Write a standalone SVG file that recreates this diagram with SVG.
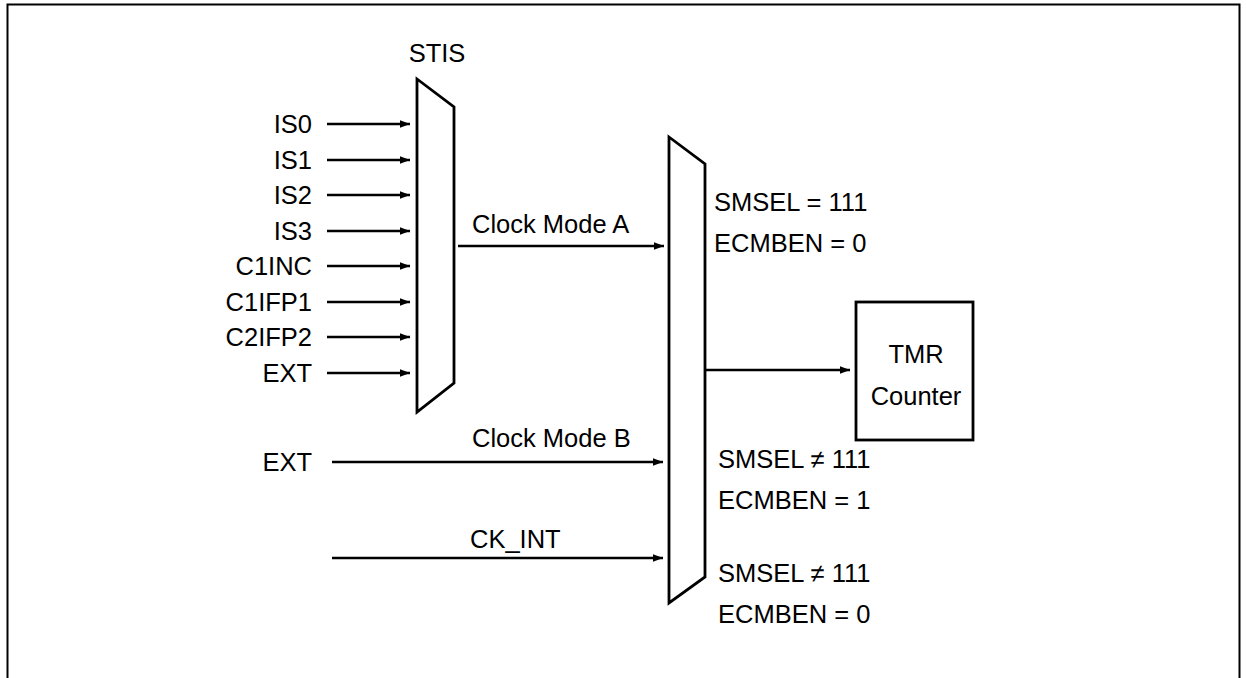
<svg xmlns="http://www.w3.org/2000/svg" width="1246" height="678" viewBox="0 0 1246 678">
<style>
text{font-family:"Liberation Sans",Arial,sans-serif;font-size:25.5px;fill:#000}
.end{text-anchor:end}
.mid{text-anchor:middle}
.shape{fill:#fff;stroke:#000;stroke-width:2.8}
.wire{fill:none;stroke:#000;stroke-width:2.6}
</style>
<defs>
<marker id="ah" markerUnits="userSpaceOnUse" markerWidth="11" markerHeight="9" refX="10" refY="4.5" orient="auto">
<path d="M0,0.8 L10,4.5 L0,8.2 z" fill="#000"/>
</marker>
</defs>
<rect x="7.5" y="4.5" width="1232" height="690" fill="none" stroke="#000" stroke-width="2"/>
<g id="stis">
<polygon class="shape" points="417,79 454,107 454,383 417,412"/>
<text class="mid" x="437" y="62">STIS</text>
</g>
<g id="mux2">
<polygon class="shape" points="669,137 705,164 705,577 669,603"/>
</g>
<g id="tmr">
<rect class="shape" x="856" y="302" width="117" height="138"/>
<text class="mid" x="916" y="363">TMR</text>
<text class="mid" x="916" y="405">Counter</text>
</g>
<g id="labels">
<text class="end" x="312" y="133">IS0</text>
<text class="end" x="312" y="169">IS1</text>
<text class="end" x="312" y="204">IS2</text>
<text class="end" x="312" y="240">IS3</text>
<text class="end" x="312" y="275">C1INC</text>
<text class="end" x="312" y="311">C1IFP1</text>
<text class="end" x="312" y="346">C2IFP2</text>
<text class="end" x="312" y="382">EXT</text>
<text class="end" x="312" y="471">EXT</text>
<text x="472" y="233">Clock Mode A</text>
<text x="472" y="447">Clock Mode B</text>
<text x="470" y="548">CK_INT</text>
<text x="714" y="211">SMSEL = 111</text>
<text x="714" y="252">ECMBEN = 0</text>
<text x="718" y="468">SMSEL ≠ 111</text>
<text x="718" y="509">ECMBEN = 1</text>
<text x="718" y="582">SMSEL ≠ 111</text>
<text x="718" y="623">ECMBEN = 0</text>
</g>
<g id="connectors">
<line class="wire" x1="327" y1="124" x2="410" y2="124" marker-end="url(#ah)"/>
<line class="wire" x1="327" y1="160" x2="410" y2="160" marker-end="url(#ah)"/>
<line class="wire" x1="327" y1="195" x2="410" y2="195" marker-end="url(#ah)"/>
<line class="wire" x1="327" y1="231" x2="410" y2="231" marker-end="url(#ah)"/>
<line class="wire" x1="327" y1="266" x2="410" y2="266" marker-end="url(#ah)"/>
<line class="wire" x1="327" y1="302" x2="410" y2="302" marker-end="url(#ah)"/>
<line class="wire" x1="327" y1="337" x2="410" y2="337" marker-end="url(#ah)"/>
<line class="wire" x1="327" y1="373" x2="410" y2="373" marker-end="url(#ah)"/>
<line class="wire" x1="458" y1="246" x2="664" y2="246" marker-end="url(#ah)"/>
<line class="wire" x1="332" y1="462" x2="663" y2="462" marker-end="url(#ah)"/>
<line class="wire" x1="332" y1="558" x2="663" y2="558" marker-end="url(#ah)"/>
<line class="wire" x1="705" y1="370" x2="850" y2="370" marker-end="url(#ah)"/>
</g>
</svg>
